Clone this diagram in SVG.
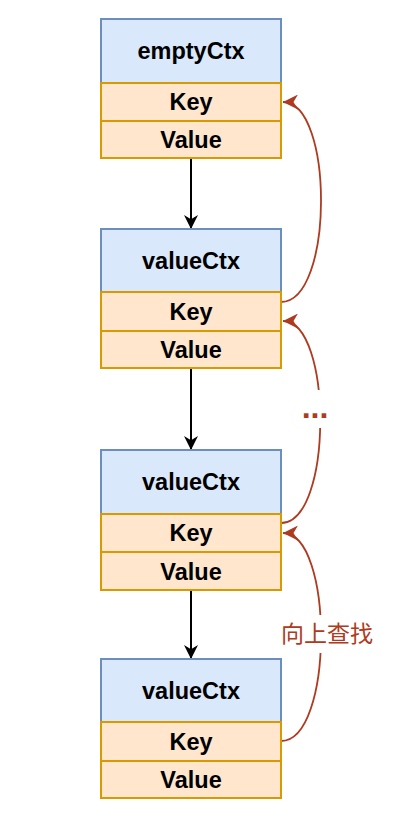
<svg xmlns="http://www.w3.org/2000/svg" width="406" height="826" viewBox="0 0 406 826">
<style>
.hd{fill:#dae8fc;stroke:#6c8ebf;stroke-width:2}
.rw{fill:#ffe6cc;stroke:#d79b00;stroke-width:2}
.t{font-family:"Liberation Sans",Arial,sans-serif;font-weight:bold;font-size:23.5px;fill:#000;text-anchor:middle}
.lnk{fill:none;stroke:#000;stroke-width:2}
.up{fill:none;stroke:#ae3a20;stroke-width:1.8}
.lbl{font-family:"Noto Sans CJK SC","Liberation Sans",sans-serif;font-size:23px;fill:#ae3a20;text-anchor:middle}
</style>
<defs>
<marker id="ab" viewBox="0 0 10 10" refX="10" refY="5" markerWidth="14" markerHeight="14" markerUnits="userSpaceOnUse" orient="auto">
<path d="M0,0 L10,5 L0,10 L3,5 Z" fill="#000"/>
</marker>
<marker id="ar" viewBox="0 0 10 10" refX="10" refY="5" markerWidth="15" markerHeight="15" markerUnits="userSpaceOnUse" orient="auto">
<path d="M0,0 L10,5 L0,10 L3,5 Z" fill="#ae3a20"/>
</marker>
</defs>
<rect width="406" height="826" fill="#fff"/>
<g id="connectors">
<line class="lnk" x1="191" y1="158" x2="191" y2="229" marker-end="url(#ab)"/>
<line class="lnk" x1="191" y1="368" x2="191" y2="450" marker-end="url(#ab)"/>
<line class="lnk" x1="191" y1="590" x2="191" y2="659" marker-end="url(#ab)"/>
<path class="up" d="M281,302 C334,302 334,102 283,102" marker-end="url(#ar)"/>
<path class="up" d="M281,523 C333,523 333,321 283,321" marker-end="url(#ar)"/>
<path class="up" d="M281,741 C334,741 334,533 283,533" marker-end="url(#ar)"/>
<rect x="298" y="390" width="36" height="38" fill="#fff"/>
<text x="315" y="418" font-family="Liberation Sans,Arial,sans-serif" font-weight="bold" font-size="32" fill="#ae3a20" text-anchor="middle">...</text>
<rect x="274" y="615" width="104" height="38" fill="#fff"/>
<text class="lbl" x="327" y="642">向上查找</text>
</g>
<g id="node1">
<rect class="hd" x="101" y="19" width="180" height="64"/>
<rect class="rw" x="101" y="83" width="180" height="38"/>
<rect class="rw" x="101" y="121" width="180" height="37"/>
<text class="t" x="191" y="59">emptyCtx</text>
<text class="t" x="191" y="110">Key</text>
<text class="t" x="191" y="148">Value</text>
</g>
<g id="node2">
<rect class="hd" x="101" y="229" width="180" height="63"/>
<rect class="rw" x="101" y="292" width="180" height="39"/>
<rect class="rw" x="101" y="331" width="180" height="37"/>
<text class="t" x="191" y="269">valueCtx</text>
<text class="t" x="191" y="320">Key</text>
<text class="t" x="191" y="358">Value</text>
</g>
<g id="node3">
<rect class="hd" x="101" y="450" width="180" height="64"/>
<rect class="rw" x="101" y="514" width="180" height="38"/>
<rect class="rw" x="101" y="552" width="180" height="38"/>
<text class="t" x="191" y="490">valueCtx</text>
<text class="t" x="191" y="541">Key</text>
<text class="t" x="191" y="580">Value</text>
</g>
<g id="node4">
<rect class="hd" x="101" y="659" width="180" height="63"/>
<rect class="rw" x="101" y="722" width="180" height="39"/>
<rect class="rw" x="101" y="761" width="180" height="37"/>
<text class="t" x="191" y="699">valueCtx</text>
<text class="t" x="191" y="750">Key</text>
<text class="t" x="191" y="788">Value</text>
</g>
</svg>
